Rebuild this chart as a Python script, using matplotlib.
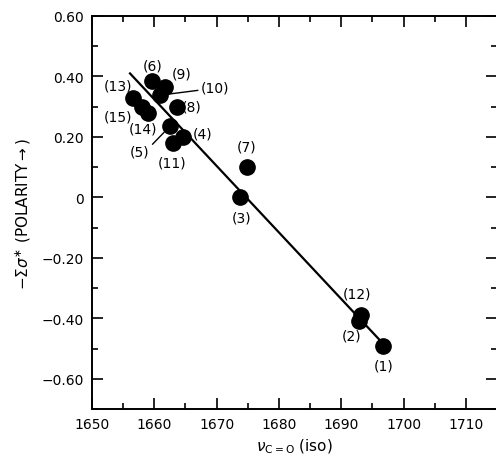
import matplotlib
matplotlib.use("Agg")
import matplotlib.pyplot as plt
from matplotlib.ticker import MultipleLocator, FixedFormatter, FixedLocator

# compound numbers, carbonyl stretch (cm-1) and -sum(sigma*)
ids = ["1", "2", "3", "4", "5", "6", "7", "8", "9", "10", "11", "12", "13", "14", "15"]
nu_co = [1696.7, 1692.9, 1673.7, 1664.6, 1662.5, 1659.6, 1674.8, 1663.6,
         1661.7, 1660.9, 1663.0, 1693.2, 1656.6, 1659.0, 1658.0]
sigma = [-0.49, -0.41, 0.00, 0.20, 0.235, 0.384, 0.10, 0.30,
         0.364, 0.338, 0.18, -0.39, 0.328, 0.28, 0.30]

# fitted line end points
fit_x = [1656.1, 1697.0]
fit_y = [0.41, -0.49]

x_ticks = [1650, 1660, 1670, 1680, 1690, 1700, 1710]
y_ticks = [0.60, 0.40, 0.20, 0.0, -0.20, -0.40, -0.60]
y_tick_labels = ["0.60", "0.40", "0.20", "0", "\u22120.20", "\u22120.40", "\u22120.60"]

# label offsets in pixels (dx right, dy up) and which labels get a leader line
label_offset = {
    "1": (1, -20), "2": (-8, -14), "3": (2, -20), "4": (20, 3), "5": (-30, -25),
    "6": (1, 16), "7": (0, 21), "8": (15, 0), "9": (17, 14), "10": (55, 8),
    "11": (-1, -20), "12": (-4, 22), "13": (-15, 13), "14": (-5, -16), "15": (-24, -10),
}
leader = {"10": (0.0, 0.3), "5": (1.0, 0.8)}

fig = plt.figure(figsize=(4.96, 4.6), dpi=100)
ax = fig.add_axes([92 / 496, 50 / 460, 405 / 496, 393 / 460])

ax.plot(fit_x, fit_y, color="black", lw=1.6, zorder=2)
ax.plot(nu_co, sigma, "o", color="black", ms=11, zorder=3)

for name, x, y in zip(ids, nu_co, sigma):
    dx, dy = label_offset[name]
    props = None
    if name in leader:
        props = dict(arrowstyle="-", lw=1.0, color="black", shrinkA=0, shrinkB=6,
                     relpos=leader[name])
    ax.annotate(f"({name})", (x, y), xytext=(dx, dy), textcoords="offset pixels",
                ha="center", va="center", fontsize=10, arrowprops=props)

ax.set_xlim(1650, 1715)
ax.set_ylim(-0.70, 0.60)
ax.xaxis.set_major_locator(FixedLocator(x_ticks))
ax.xaxis.set_minor_locator(MultipleLocator(5))
ax.yaxis.set_major_locator(FixedLocator(y_ticks))
ax.yaxis.set_major_formatter(FixedFormatter(y_tick_labels))
ax.yaxis.set_minor_locator(MultipleLocator(0.1))

ax.tick_params(which="both", direction="in", top=True, right=True, width=1.2)
ax.tick_params(which="major", length=8, labelsize=10, pad=6)
ax.tick_params(which="minor", length=4)
for s in ax.spines.values():
    s.set_linewidth(1.4)

ax.set_xlabel(r"$\nu_{\rm C=O}$ (iso)", fontsize=11, labelpad=4)
ax.set_ylabel(r"$-\Sigma\sigma^{\ast}$ (POLARITY$\rightarrow$)", fontsize=11, labelpad=6)

fig.savefig("out.png", dpi=100)
